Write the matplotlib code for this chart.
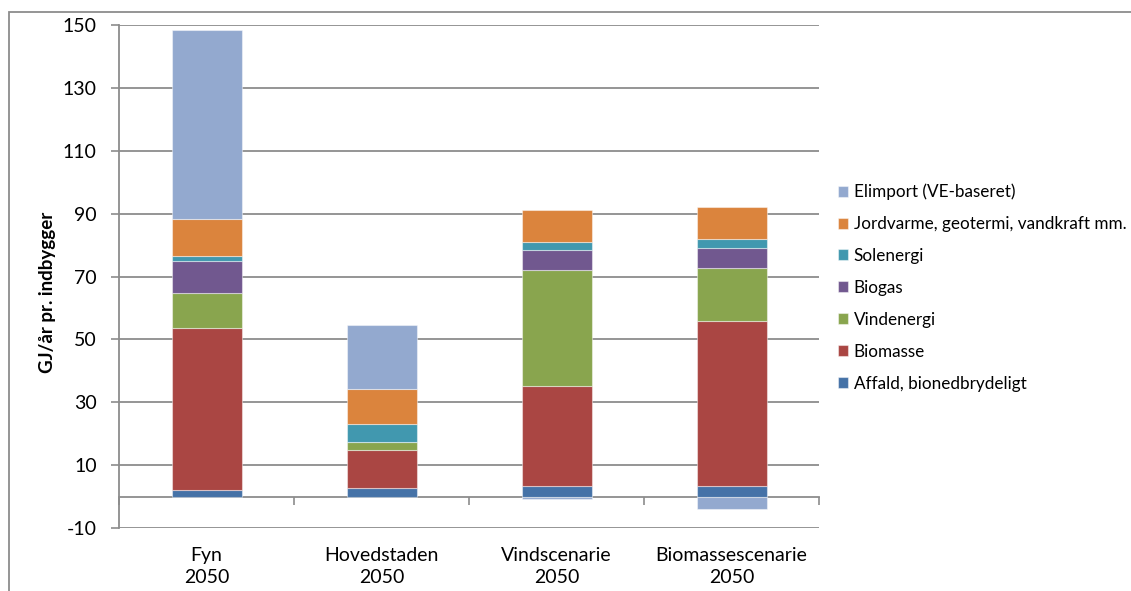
import matplotlib.pyplot as plt
import matplotlib.patches as mpatches
import numpy as np

# categories and series (GJ/år pr. indbygger)
categories = ["Fyn\n2050", "Hovedstaden\n2050", "Vindscenarie\n2050", "Biomassescenarie\n2050"]

affald = [2.1, 2.6, 3.4, 3.4]
biomasse = [51.5, 12.1, 31.8, 52.4]
vindenergi = [11.0, 2.6, 37.0, 17.0]
biogas = [10.2, 0.0, 6.2, 6.3]
solenergi = [1.6, 5.8, 2.6, 2.7]
jordvarme = [11.8, 11.2, 10.3, 10.3]
elimport = [60.1, 20.2, -0.9, -4.1]

series_names = ["Affald, bionedbrydeligt", "Biomasse", "Vindenergi", "Biogas",
                "Solenergi", "Jordvarme, geotermi, vandkraft mm.", "Elimport (VE-baseret)"]
series_values = [affald, biomasse, vindenergi, biogas, solenergi, jordvarme, elimport]
colors = ["#4572A7", "#AA4643", "#89A54E", "#71588F", "#4198AF", "#DB843D", "#93A9CF"]

yticks = [-10, 10, 30, 50, 70, 90, 110, 130, 150]

plt.rcParams['font.family'] = ['Lato', 'DejaVu Sans']
plt.rcParams['axes.unicode_minus'] = False
GRID = "#8c8c8c"

fig = plt.figure(figsize=(11.31, 5.91), dpi=100)
ax = fig.add_axes([119 / 1131, 1 - 528 / 591, 700 / 1131, 503 / 591])

x = np.arange(len(categories))
pos_base = np.zeros(len(categories))
neg_base = np.zeros(len(categories))
handles = []
for name, vals, col in zip(series_names, series_values, colors):
    vals = np.array(vals, dtype=float)
    bottom = np.where(vals >= 0, pos_base, neg_base)
    bars = ax.bar(x, vals, width=0.4, bottom=bottom, color=col,
                  edgecolor=(1, 1, 1, 0.45), linewidth=0.8, zorder=3, label=name)
    handles.append(bars)
    pos_base += np.where(vals >= 0, vals, 0)
    neg_base += np.where(vals < 0, vals, 0)

ax.set_xlim(-0.5, len(categories) - 0.5)
ax.set_ylim(-10, 150)
ax.set_yticks(yticks)
ax.tick_params(axis='y', length=6, width=1.2, color=GRID, pad=10, labelsize=14)
ax.grid(axis='y', color=GRID, linewidth=1.3, zorder=0)

# category axis sits at zero, labels below the plot
ax.spines['bottom'].set_position(('data', 0))
ax.spines['bottom'].set_color(GRID)
ax.spines['bottom'].set_linewidth(1.3)
ax.spines['left'].set_color(GRID)
ax.spines['left'].set_linewidth(1.3)
ax.spines['top'].set_visible(False)
ax.spines['right'].set_visible(False)
ax.set_xticks(x)
ax.set_xticklabels(categories, fontsize=14, linespacing=1.4)
ax.set_xticks(np.arange(-0.5, len(categories)), minor=True)
ax.tick_params(axis='x', which='major', length=0, pad=36)
ax.tick_params(axis='x', which='minor', length=6, width=1.2, color=GRID, direction='out')

fig.text(48 / 1131, 0.505, "GJ/år pr. indbygger", rotation=90, ha='center', va='center',
         fontsize=13.5, fontweight='bold')

leg = ax.legend(handles[::-1], series_names[::-1], loc='center left',
                bbox_to_anchor=(1.027, 0.478), frameon=False, fontsize=12.3,
                handlelength=0.62, handleheight=0.62, handletextpad=0.3,
                labelspacing=0.93, borderpad=0, borderaxespad=0)

# outer chart border (left and top visible)
fig.patches.append(mpatches.Rectangle((8.5 / 1131, -0.1), 1.2, 1.1 - 11.5 / 591,
                                      transform=fig.transFigure, fill=False,
                                      edgecolor=GRID, linewidth=1.3))

fig.savefig("out.png", dpi=100)
